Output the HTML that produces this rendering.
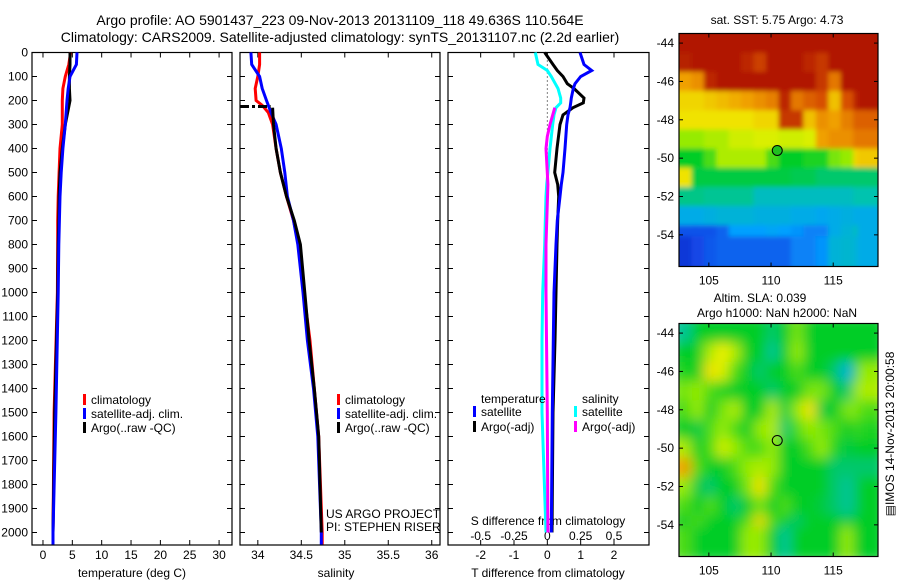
<!DOCTYPE html>
<html><head><meta charset="utf-8"><style>
html,body{margin:0;padding:0;background:#fff}
svg{display:block;font-family:"Liberation Sans",sans-serif}
</style></head><body>
<svg id="fig" width="900" height="580" viewBox="0 0 900 580">
<defs>
<clipPath id="clipSST"><rect x="679" y="33.5" width="199" height="233"/></clipPath>
<clipPath id="clipSLA"><rect x="679" y="323.5" width="199" height="233"/></clipPath>
<filter id="blur1" x="-5%" y="-5%" width="110%" height="110%"><feGaussianBlur stdDeviation="2.5"/></filter>
<filter id="blur2" x="-5%" y="-5%" width="110%" height="110%"><feGaussianBlur stdDeviation="6"/></filter>
</defs>
<g id="root"></g>
</svg>
<script>
// ---- data ----
const tempDepths = [0,50,100,150,200,300,400,500,600,700,800,1000,1500,2000,2050];
const tempClim   = [4.7,4.4,3.8,3.4,3.3,3.3,2.9,2.75,2.6,2.5,2.5,2.45,1.9,1.7,1.7];
const tempSat    = [5.8,5.7,4.6,4.3,4.1,3.8,3.4,3.1,2.9,2.8,2.7,2.6,2.2,1.7,1.7];
const tempArgo   = [4.6,4.6,4.5,4.5,4.6,3.8,3.3,2.9,2.75,2.7,2.6,2.5,2.0,1.7,1.7];
const salDepths  = [0,50,100,150,200,220,250,300,400,500,600,700,800,1000,1200,1400,1600,2000,2050];
const salClim    = [34.02,34.02,34.0,33.97,33.98,34.05,34.12,34.17,34.21,34.26,34.33,34.41,34.47,34.53,34.6,34.65,34.7,34.74,34.74];
const salSat     = [33.92,33.93,34.02,34.05,34.1,34.12,34.15,34.21,34.27,34.31,34.34,34.41,34.46,34.52,34.57,34.64,34.69,34.73,34.73];
const argoSalDepths = [230,300,400,500,600,700,800,1000,1200,1400,1600,2000];
const argoSal       = [34.17,34.18,34.21,34.26,34.33,34.42,34.49,34.54,34.59,34.65,34.7,34.73];
const mldDepth = 225;
const diffDepths = [0,50,75,100,130,150,190,210,230,260,300,400,500,550,600,700,800,1000,1200,1500,2000];
const tDiffSat   = [0.98,1.1,1.33,1.0,0.83,0.78,0.72,0.7,0.68,0.62,0.58,0.53,0.47,0.42,0.38,0.3,0.26,0.2,0.18,0.15,0.12];
const tDiffArgo  = [-0.08,0.17,0.3,0.47,0.6,0.8,1.1,1.08,0.77,0.47,0.38,0.29,0.22,0.31,0.34,0.31,0.29,0.26,0.23,0.17,0.14];
const sDiffSat   = [-0.09,-0.07,0.0,0.03,0.06,0.08,0.1,0.1,0.065,0.05,0.04,0.02,0.004,-0.005,-0.01,-0.015,-0.02,-0.035,-0.04,-0.04,-0.01];
const argoSDiffDepths = [230,300,350,400,500,550,800,1000,1500,2000];
const sDiffArgo       = [0.056,0.02,0.0,-0.01,0.0,0.004,-0.01,-0.01,0.0,0.004];
const tempTicks = [0,5,10,15,20,25,30];
const salTicks = [34,34.5,35,35.5,36];
const salTickLabels = ["34","34.5","35","35.5","36"];
const tDiffTicks = [-2,-1,0,1,2];
const sDiffTicks = [-0.5,-0.25,0,0.25,0.5];
const sDiffTickLabels = ["-0.5","-0.25","0","0.25","0.5"];
const depthTicks = [0,100,200,300,400,500,600,700,800,900,1000,1100,1200,1300,1400,1500,1600,1700,1800,1900,2000];
const mapLonTicks = [105,110,115];
const mapLatTicks = [-44,-46,-48,-50,-52,-54];
const floatLon = 110.5, floatLat = -49.6;
// SST map rows (north->south, 1 deg each), normalized colour index 0..1
const sstGrid = [
[0.97,0.97,0.97,0.97,0.97,0.97,0.97,0.97,0.97,0.97,0.97,0.97,0.97,0.97,0.97,0.97],
[0.96,0.97,0.97,0.97,0.97,0.95,0.92,0.97,0.97,0.97,0.95,0.93,0.97,0.97,0.97,0.97],
[0.8,0.82,0.95,0.97,0.97,0.97,0.97,0.97,0.97,0.97,0.97,0.93,0.85,0.97,0.97,0.97],
[0.72,0.72,0.74,0.76,0.78,0.8,0.82,0.84,0.95,0.85,0.88,0.9,0.75,0.9,0.95,0.97],
[0.7,0.7,0.7,0.7,0.7,0.7,0.72,0.72,0.93,0.93,0.75,0.82,0.8,0.84,0.88,0.88],
[0.6,0.6,0.62,0.62,0.65,0.65,0.66,0.66,0.65,0.65,0.66,0.8,0.82,0.82,0.85,0.85],
[0.5,0.5,0.55,0.62,0.62,0.62,0.62,0.55,0.5,0.5,0.52,0.52,0.58,0.6,0.72,0.74],
[0.7,0.48,0.48,0.48,0.48,0.48,0.48,0.48,0.48,0.47,0.47,0.45,0.45,0.45,0.45,0.45],
[0.43,0.43,0.42,0.42,0.42,0.42,0.38,0.38,0.38,0.38,0.38,0.38,0.38,0.38,0.4,0.4],
[0.33,0.33,0.34,0.35,0.35,0.35,0.34,0.34,0.34,0.33,0.33,0.32,0.33,0.34,0.33,0.33],
[0.17,0.17,0.17,0.2,0.3,0.3,0.3,0.31,0.3,0.28,0.25,0.25,0.33,0.35,0.38,0.33],
[0.12,0.15,0.18,0.2,0.2,0.2,0.2,0.2,0.2,0.25,0.25,0.28,0.35,0.36,0.35,0.33]
];
const slaGrid = [
[0.42,0.5,0.5,0.5,0.5,0.5,0.5,0.45,0.5,0.58,0.5,0.5,0.5,0.5,0.5,0.5],
[0.5,0.5,0.62,0.68,0.62,0.5,0.5,0.42,0.5,0.6,0.5,0.5,0.5,0.5,0.5,0.5],
[0.52,0.5,0.7,0.66,0.55,0.5,0.45,0.5,0.5,0.55,0.5,0.5,0.45,0.35,0.5,0.6],
[0.58,0.6,0.55,0.52,0.5,0.5,0.5,0.45,0.5,0.5,0.58,0.58,0.5,0.45,0.6,0.62],
[0.55,0.6,0.5,0.58,0.62,0.5,0.5,0.62,0.48,0.6,0.7,0.48,0.5,0.58,0.6,0.55],
[0.5,0.48,0.55,0.6,0.55,0.5,0.6,0.62,0.45,0.55,0.6,0.58,0.55,0.5,0.55,0.52],
[0.62,0.5,0.55,0.65,0.6,0.55,0.55,0.6,0.5,0.5,0.55,0.6,0.52,0.48,0.5,0.5],
[0.8,0.55,0.5,0.5,0.55,0.6,0.62,0.6,0.5,0.5,0.5,0.5,0.45,0.45,0.45,0.45],
[0.6,0.48,0.45,0.5,0.5,0.58,0.7,0.55,0.5,0.5,0.5,0.5,0.45,0.42,0.45,0.5],
[0.55,0.5,0.55,0.5,0.45,0.5,0.58,0.5,0.55,0.5,0.5,0.48,0.45,0.42,0.45,0.5],
[0.5,0.55,0.5,0.5,0.5,0.55,0.72,0.55,0.5,0.45,0.5,0.5,0.5,0.48,0.5,0.5],
[0.55,0.5,0.5,0.5,0.5,0.6,0.6,0.5,0.42,0.5,0.5,0.5,0.5,0.6,0.5,0.5]
];

// ---- helpers ----
const NS="http://www.w3.org/2000/svg";
const root=document.getElementById('root');
function el(tag,attrs,parent){const e=document.createElementNS(NS,tag);for(const k in attrs)e.setAttribute(k,attrs[k]);(parent||root).appendChild(e);return e;}
function txt(x,y,s,anchor,size,parent){const t=el('text',{x:x,y:y,'text-anchor':anchor||'start','font-size':size||12,fill:'#000'},parent);t.textContent=s;return t;}
const TOP=52.5, BOT=545, PXD=0.24;
const yD=d=>TOP+d*PXD;
const P1={x0:32,x1:232,v0:-1.87,v1:32.2};
const P2={x0:240,x1:440,v0:33.795,v1:36.095};
const P3={x0:448,x1:649,v0:-2.98,v1:3.05};
const sx=(P,v)=>P.x0+(v-P.v0)/(P.v1-P.v0)*(P.x1-P.x0);
const sDiffX=v=>sx(P3,v*4);

function panelBox(P,name){
  const g=el('g',{});
  
  
  el('rect',{x:P.x0,y:TOP,width:P.x1-P.x0,height:BOT-TOP,fill:'#fff',stroke:'#000','stroke-width':1.2},g);
  depthTicks.forEach(d=>{const y=yD(d);
    el('line',{x1:P.x0,x2:P.x0+5,y1:y,y2:y,stroke:'#000'},g);
    el('line',{x1:P.x1-5,x2:P.x1,y1:y,y2:y,stroke:'#000'},g);});
  return g;
}
function series(P,xs,ds,color,name,xf){
  const pts=xs.map((v,i)=>(xf?xf(v):sx(P,v)).toFixed(1)+','+yD(ds[i]).toFixed(1)).join(' ');
  const p=el('polyline',{points:pts,fill:'none',stroke:color,'stroke-width':3,'stroke-linejoin':'miter'});
  
  
}
function legendEntry(x,y,color,label,name){
  const g=el('g',{});
  
  
  el('rect',{x:x,y:y-10,width:3,height:11,fill:color},g);
  txt(x+8,y,label,'start',12,g);
}

// titles
const t1=txt(340,25,'Argo profile: AO 5901437_223 09-Nov-2013 20131109_118 49.636S 110.564E','middle',14);


const t2=txt(340,42,'Climatology: CARS2009. Satellite-adjusted climatology: synTS_20131107.nc (2.2d earlier)','middle',14);



// ---- panel 1 temperature ----
const g1=panelBox(P1,'temperature-panel');
depthTicks.forEach(d=>{const t=txt(28,yD(d)+4,String(d),'end',12);
  
  });
tempTicks.forEach(v=>{const x=sx(P1,v);
  el('line',{x1:x,x2:x,y1:TOP,y2:TOP+5,stroke:'#000'});
  el('line',{x1:x,x2:x,y1:BOT-5,y2:BOT,stroke:'#000'});
  const t=txt(x,559,String(v),'middle',12);
  
  });
const xl1=txt(132,577,'temperature (deg C)','middle',12);


series(P1,tempClim,tempDepths,'#f00','temp-climatology-line');
series(P1,tempArgo,tempDepths,'#000','temp-argo-line');
series(P1,tempSat,tempDepths,'#00f','temp-satellite-line');
legendEntry(83,404,'#f00','climatology','legend-climatology');
legendEntry(83,418,'#00f','satellite-adj. clim.','legend-satellite-adj');
legendEntry(83,432,'#000','Argo(..raw -QC)','legend-argo');

// ---- panel 2 salinity ----
const g2=panelBox(P2,'salinity-panel');
salTicks.forEach((v,i)=>{const x=sx(P2,v);
  el('line',{x1:x,x2:x,y1:TOP,y2:TOP+5,stroke:'#000'});
  el('line',{x1:x,x2:x,y1:BOT-5,y2:BOT,stroke:'#000'});
  const t=txt(x,559,salTickLabels[i],'middle',12);
  
  });
const xl2=txt(336,577,'salinity','middle',12);


series(P2,salClim,salDepths,'#f00','sal-climatology-line');
series(P2,salSat,salDepths,'#00f','sal-satellite-line');
series(P2,argoSal,argoSalDepths,'#000','sal-argo-line');
const mld=el('line',{x1:P2.x0,x2:sx(P2,argoSal[0])-2,y1:yD(mldDepth),y2:yD(mldDepth),stroke:'#000','stroke-width':3,'stroke-dasharray':'9,3,3,3'});


legendEntry(337,404,'#f00','climatology','legend-climatology-2');
legendEntry(337,418,'#00f','satellite-adj. clim.','legend-satellite-adj-2');
legendEntry(337,432,'#000','Argo(..raw -QC)','legend-argo-2');
const cr1=txt(326,518,'US ARGO PROJECT','start',12);


const cr2=txt(326,531,'PI: STEPHEN RISER','start',12);



// ---- panel 3 differences ----
const g3=panelBox(P3,'difference-panel');
tDiffTicks.forEach(v=>{const x=sx(P3,v);
  el('line',{x1:x,x2:x,y1:TOP,y2:TOP+5,stroke:'#000'});
  el('line',{x1:x,x2:x,y1:BOT-5,y2:BOT,stroke:'#000'});
  const t=txt(x,559,String(v),'middle',12);
  
  });
sDiffTicks.forEach((v,i)=>{const t=txt(sDiffX(v),540,sDiffTickLabels[i],'middle',12);
  
  });
const sl=txt(548,525,'S difference from climatology','middle',12);


const tl=txt(548,577,'T difference from climatology','middle',12);


const zl=el('line',{x1:sx(P3,0),x2:sx(P3,0),y1:TOP,y2:yD(650),stroke:'#000','stroke-width':1,'stroke-dasharray':'1,3'});


series(P3,sDiffSat,diffDepths,'#0ff','s-diff-satellite-line',sDiffX);
series(P3,sDiffArgo,argoSDiffDepths,'#f0f','s-diff-argo-line',sDiffX);
series(P3,tDiffArgo,diffDepths,'#000','t-diff-argo-line');
series(P3,tDiffSat,diffDepths,'#00f','t-diff-satellite-line');
const lt=txt(481,403,'temperature','start',12);


const ls=txt(582,403,'salinity','start',12);


legendEntry(473,416,'#00f','satellite','legend-t-satellite');
legendEntry(473,431,'#000','Argo(-adj)','legend-t-argo');
legendEntry(574,416,'#0ff','satellite','legend-s-satellite');
legendEntry(574,431,'#f0f','Argo(-adj)','legend-s-argo');

// ---- maps ----
const cmapStops=[[0,[0,0,160]],[0.15,[20,70,230]],[0.3,[0,160,255]],[0.4,[0,195,175]],[0.5,[0,205,40]],[0.6,[150,235,0]],[0.68,[240,240,0]],[0.8,[240,160,0]],[0.9,[215,80,0]],[1,[160,0,0]]];
function cmap(v){
  v=Math.max(0,Math.min(1,v));
  for(let i=1;i<cmapStops.length;i++){if(v<=cmapStops[i][0]){
    const [a,ca]=cmapStops[i-1],[b,cb]=cmapStops[i];const f=(v-a)/(b-a);
    return 'rgb('+ca.map((c,k)=>Math.round(c+(cb[k]-c)*f)).join(',')+')';}}
  return 'rgb(160,0,0)';
}
const M={x0:679,x1:878,lon0:102.6,lon1:118.6,lat0:-43.5,lat1:-55.65};
function drawMap(y0,grid,name,clip,blur,circleFill){
  const y1=y0+233;
  const mx=lon=>M.x0+(lon-M.lon0)/(M.lon1-M.lon0)*(M.x1-M.x0);
  const my=lat=>y0+(lat-M.lat0)/(M.lat1-M.lat0)*(y1-y0);
  const g=el('g',{'clip-path':'url(#'+clip+')'});
  
  
  const inner=el('g',{filter:'url(#'+blur+')'},g);
  const rows=grid.length, cols=grid[0].length;
  for(let r=0;r<rows;r++)for(let c=0;c<cols;c++){
    const lonA=M.lon0+c, latA=M.lat0-r;
    const x=mx(lonA), y=my(latA);
    const cell=el('rect',{x:x-8,y:y-8,width:mx(lonA+1)-x+16,height:my(latA-1)-y+16,fill:cmap(grid[r][c])},inner);
    if(c>0&&c<cols-1) cell.setAttribute('x',x), cell.setAttribute('width',mx(lonA+1)-x+0.5);
    if(r>0&&r<rows-1) cell.setAttribute('y',y), cell.setAttribute('height',my(latA-1)-y+0.5);
    
    
  }
  el('rect',{x:M.x0,y:y0,width:M.x1-M.x0,height:y1-y0,fill:'none',stroke:'#000','stroke-width':1.2});
  mapLonTicks.forEach(lon=>{const x=mx(lon);
    el('line',{x1:x,x2:x,y1:y0,y2:y0+4,stroke:'#000'});
    el('line',{x1:x,x2:x,y1:y1-4,y2:y1,stroke:'#000'});
    const t=txt(x,y1+18,String(lon),'middle',12);
    
    });
  mapLatTicks.forEach(lat=>{const y=my(lat);
    el('line',{x1:M.x0,x2:M.x0+4,y1:y,y2:y,stroke:'#000'});
    el('line',{x1:M.x1-4,x2:M.x1,y1:y,y2:y,stroke:'#000'});
    const t=txt(M.x0-5,y+4,String(lat),'end',12);
    
    });
  const c=el('circle',{cx:mx(floatLon),cy:my(floatLat),r:5,fill:circleFill,stroke:'#000','stroke-width':1});
  
  
}
drawMap(33.5,sstGrid,'sst-map','clipSST','blur1','#20c020');
drawMap(323.5,slaGrid,'sla-map','clipSLA','blur2','none');
const mt1=txt(777,24,'sat. SST: 5.75 Argo: 4.73','middle',12);


const mt2=txt(760,302,'Altim. SLA: 0.039','middle',12);


const mt3=txt(777,317,'Argo h1000: NaN h2000: NaN','middle',12);


const im=txt(0,0,'\u25A4IMOS 14-Nov-2013 20:00:58','middle',12);
im.setAttribute('transform','translate(894,434) rotate(-90)');


</script>
</body></html>
